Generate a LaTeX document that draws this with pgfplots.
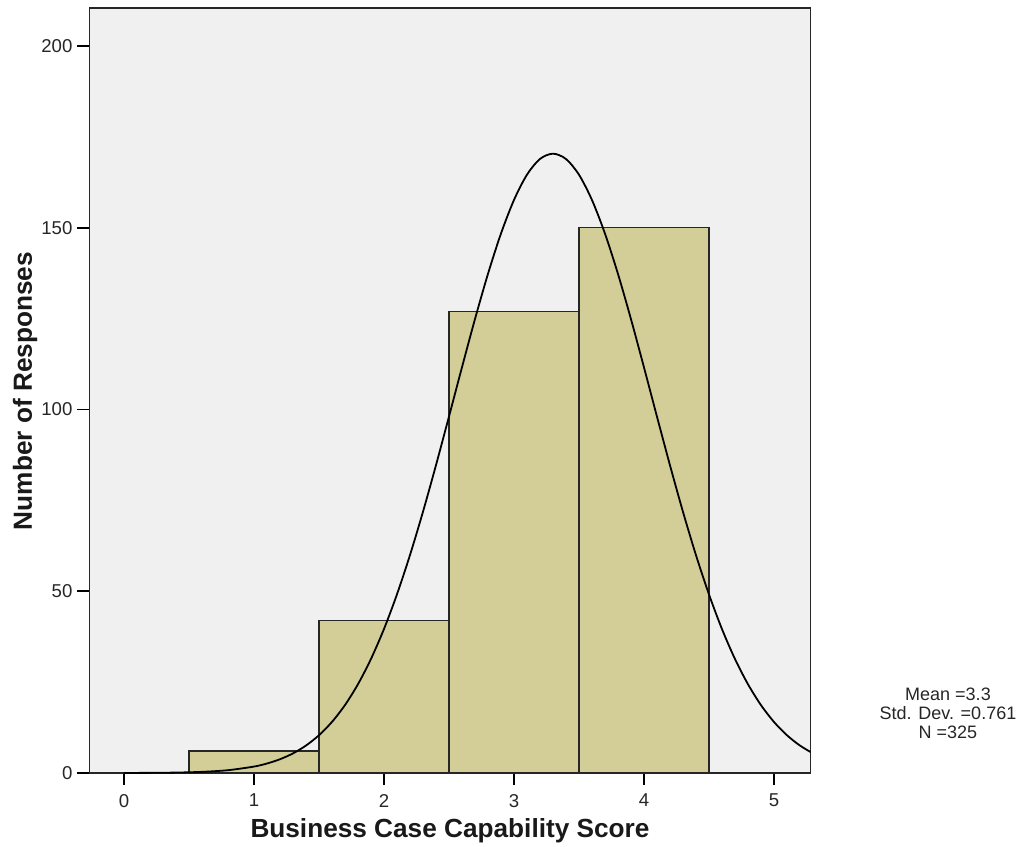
\documentclass[border=0pt]{standalone}
\usepackage{fontspec}
\setmainfont{Liberation Sans}
\usepackage{pgfplots}
\pgfplotsset{compat=1.18}
\definecolor{barfill}{HTML}{D3CE98}
\definecolor{bg}{HTML}{F0F0F0}
\begin{document}
\begin{tikzpicture}
\path[use as bounding box] (-44.75pt,-37pt) rectangle (464.75pt,386.5pt);
\begin{axis}[
  at={(0pt,0pt)}, anchor=south west,
  scale only axis, width=360.5pt, height=382.5pt,
  xmin=-0.265, xmax=5.281, ymin=0, ymax=210.45,
  axis background/.style={fill=bg},
  xtick={0,1,2,3,4,5}, ytick={0,50,100,150,200},
  xtick pos=bottom, ytick pos=left,
  tick align=outside, major tick length=6pt,
  tick style={black, line width=0.8pt},
  axis line style={line width=0.8pt, black!85},
  ticklabel style={font=\fontsize{9.3}{10}\selectfont, text=black!85},
  xticklabel style={yshift=-1pt},
  yticklabel style={xshift=1pt},
  /pgf/number format/assume math mode=true,
  clip=true,
]
\addplot[ybar interval, fill=barfill, draw=black!85, line width=0.7pt] coordinates {
  (0.5,6) (1.5,42) (2.5,127) (3.5,150) (4.5,150)};
\addplot[smooth, line width=0.9pt, black] coordinates {
  (0.0,0.014) (0.2,0.043) (0.4,0.120) (0.6,0.315) (0.8,0.773)
  (1.0,1.769) (1.1,2.609) (1.2,3.782) (1.3,5.390) (1.4,7.546)
  (1.5,10.385) (1.6,14.047) (1.7,18.68) (1.8,24.42) (1.9,31.37)
  (2.0,39.60) (2.1,49.14) (2.2,59.93) (2.3,71.85) (2.4,84.66)
  (2.5,98.04) (2.6,111.60) (2.7,124.86) (2.8,137.30) (2.9,148.39)
  (3.0,157.63) (3.1,164.59) (3.2,168.91) (3.3,170.37) (3.4,168.91)
  (3.5,164.59) (3.6,157.63) (3.7,148.39) (3.8,137.30) (3.9,124.86)
  (4.0,111.60) (4.1,98.04) (4.2,84.66) (4.3,71.85) (4.4,59.93)
  (4.5,49.14) (4.6,39.60) (4.7,31.37) (4.8,24.42) (4.9,18.68)
  (5.0,14.047) (5.1,10.385) (5.2,7.546) (5.3,5.390)};
\end{axis}
\node[font=\bfseries\fontsize{13.1}{15}\selectfont, text=black!90] at (180.25pt,-29pt) {Business Case Capability Score};
\node[rotate=90, font=\bfseries\fontsize{13.1}{15}\selectfont, text=black!90] at (-32.25pt,191pt) {Number of Responses};
\node[align=center, font=\fontsize{9}{9.5}\selectfont, text=black!85, inner sep=0pt] at (429.25pt,30pt) {Mean =3.3\\Std. Dev. =0.761\\N =325};
\end{tikzpicture}
\end{document}
